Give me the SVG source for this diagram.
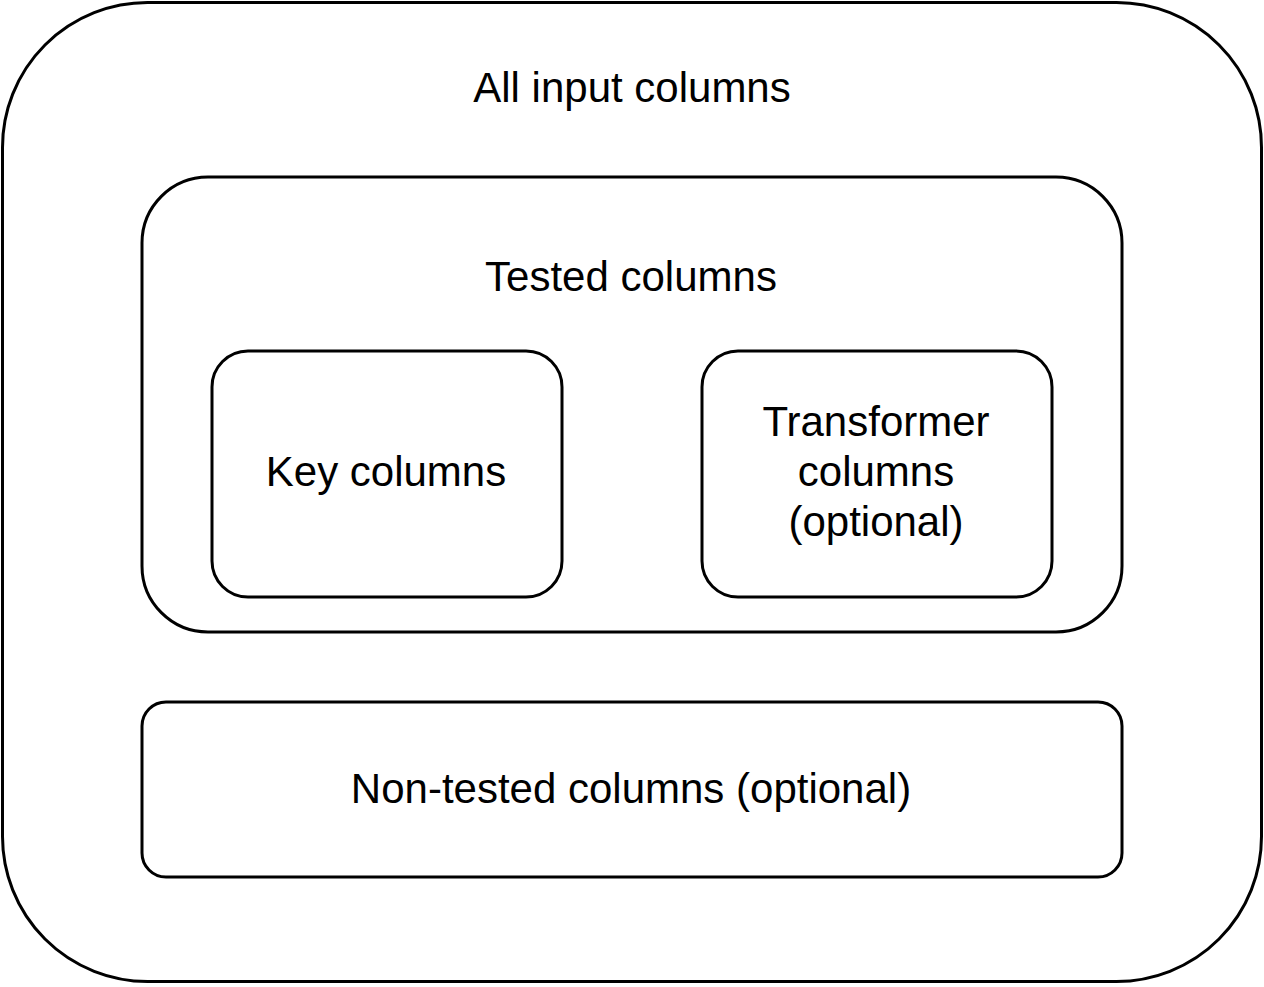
<svg xmlns="http://www.w3.org/2000/svg" width="1264" height="987" viewBox="0 0 1264 987">
<style>
.box{fill:#fff;stroke:#000;stroke-width:3}
.t{font-family:"Liberation Sans",Arial,sans-serif;font-size:42px;fill:#000;text-anchor:middle}
</style>
<rect width="1264" height="987" fill="#fff"/>
<g id="all-input">
<rect class="box" x="2.5" y="2.5" width="1259" height="979" rx="145" ry="145"/>
<text class="t" x="632" y="102">All input columns</text>
</g>
<g id="tested">
<rect class="box" x="142" y="177" width="980" height="455" rx="66" ry="66"/>
<text class="t" x="631" y="291">Tested columns</text>
</g>
<g id="key">
<rect class="box" x="212" y="351" width="350" height="246" rx="36" ry="36"/>
<text class="t" x="386" y="486">Key columns</text>
</g>
<g id="transformer">
<rect class="box" x="702" y="351" width="350" height="246" rx="36" ry="36"/>
<text class="t" x="876" y="436">Transformer</text>
<text class="t" x="876" y="486">columns</text>
<text class="t" x="876" y="536">(optional)</text>
</g>
<g id="non-tested">
<rect class="box" x="142" y="702" width="980" height="175" rx="24" ry="24"/>
<text class="t" x="631" y="803">Non-tested columns (optional)</text>
</g>
<g id="connectors"></g>
</svg>
